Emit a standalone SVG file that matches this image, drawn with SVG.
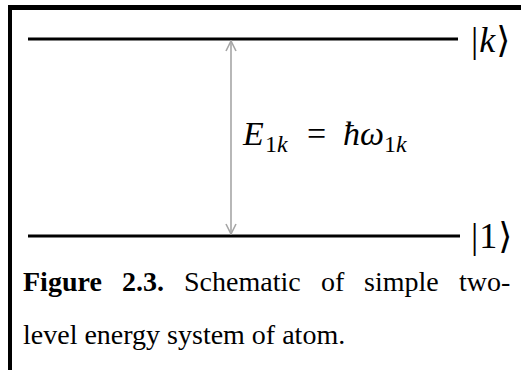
<svg xmlns="http://www.w3.org/2000/svg" width="521" height="370" viewBox="0 0 521 370">
<style>
.lvl{stroke:#000;stroke-width:3;fill:none}
.arr{stroke:#a6a6a6;stroke-width:1.6;fill:none}
.math{fill:#000}
.it{font-style:italic}
.cap{font-size:28px;fill:#000}
</style>
<defs>
<marker id="ah" viewBox="0 0 12 12" refX="11" refY="6" markerWidth="12" markerHeight="12" markerUnits="userSpaceOnUse" orient="auto-start-reverse">
<path d="M1,1 L11,6 L1,11" stroke="#a6a6a6" stroke-width="1.6" fill="none"/>
</marker>
</defs>
<rect x="0" y="0" width="521" height="370" fill="#fff"/>
<g id="frame">
<rect x="8" y="5" width="4" height="365" fill="#000"/>
<rect x="8" y="5" width="513" height="5" fill="#000"/>
</g>
<g id="level-k" font-family="'Liberation Serif','Times New Roman','DejaVu Serif',serif">
<line class="lvl" x1="28" y1="39" x2="458" y2="39"/>
<text class="math" x="471" y="52" font-size="36" letter-spacing="1">|<tspan class="it">k</tspan>⟩</text>
</g>
<g id="level-1" font-family="'Liberation Serif','Times New Roman','DejaVu Serif',serif">
<line class="lvl" x1="28" y1="236" x2="460" y2="236"/>
<text class="math" x="471" y="248" font-size="36" letter-spacing="1">|1⟩</text>
</g>
<g id="connectors">
<line class="arr" x1="231" y1="41" x2="231" y2="234" marker-start="url(#ah)" marker-end="url(#ah)"/>
</g>
<g id="label" font-family="'Liberation Serif','Times New Roman','DejaVu Serif',serif">
<text class="math it" x="243" y="145" font-size="34">E</text>
<text class="math" x="265" y="152" font-size="24">1<tspan class="it">k</tspan></text>
<text class="math" x="307" y="145" font-size="34">=</text>
<text class="math it" x="343" y="145" font-size="34">ħω</text>
<text class="math" x="384" y="152" font-size="24">1<tspan class="it">k</tspan></text>
</g>
<g id="caption" font-family="'Liberation Serif','Times New Roman','DejaVu Serif',serif">
<text class="cap" x="23" y="291" font-weight="bold">Figure</text>
<text class="cap" x="122" y="291" font-weight="bold">2.3.</text>
<text class="cap" x="184" y="291">Schematic</text>
<text class="cap" x="321" y="291">of</text>
<text class="cap" x="364" y="291">simple</text>
<text class="cap" x="459" y="291">two-</text>
<text class="cap" x="23" y="344">level energy system of atom.</text>
</g>
</svg>
